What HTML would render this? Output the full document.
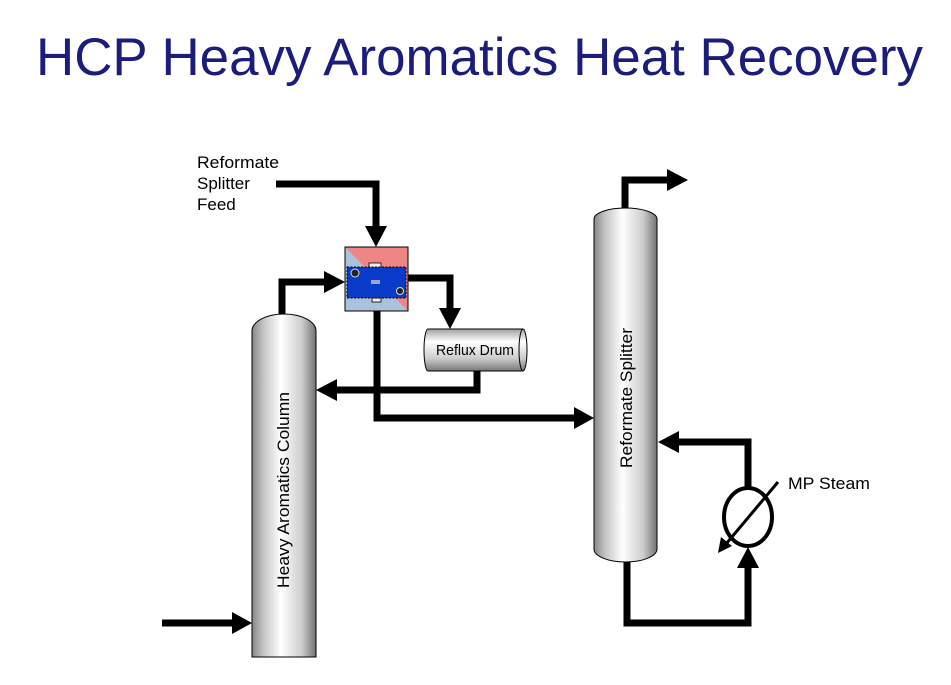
<!DOCTYPE html>
<html>
<head>
<meta charset="utf-8">
<style>
html,body{margin:0;padding:0;background:#fff;}
svg{display:block;}
</style>
</head>
<body>
<svg width="951" height="685" viewBox="0 0 951 685" xmlns="http://www.w3.org/2000/svg">
<defs>
<linearGradient id="col" x1="0" y1="0" x2="1" y2="0">
<stop offset="0" stop-color="#888888"/>
<stop offset="0.18" stop-color="#c4c4c4"/>
<stop offset="0.45" stop-color="#ffffff"/>
<stop offset="0.78" stop-color="#cccccc"/>
<stop offset="1" stop-color="#727272"/>
</linearGradient>
<linearGradient id="drum" x1="0" y1="0" x2="0" y2="1">
<stop offset="0" stop-color="#a0a0a0"/>
<stop offset="0.3" stop-color="#ffffff"/>
<stop offset="0.7" stop-color="#cccccc"/>
<stop offset="1" stop-color="#777777"/>
</linearGradient>
</defs>

<!-- Title -->
<text x="36" y="75" font-family="Liberation Sans, Arial, sans-serif" font-size="53" fill="#1c1c7c" textLength="887" lengthAdjust="spacingAndGlyphs">HCP Heavy Aromatics Heat Recovery</text>

<!-- Labels -->
<g font-family="Liberation Sans, Arial, sans-serif" font-size="17" fill="#000">
<text x="197" y="168" textLength="82" lengthAdjust="spacingAndGlyphs">Reformate</text>
<text x="197" y="189">Splitter</text>
<text x="197" y="210">Feed</text>
<text x="788" y="489" textLength="82" lengthAdjust="spacingAndGlyphs">MP Steam</text>
</g>

<!-- Pipes -->
<g fill="none" stroke="#000" stroke-width="7" stroke-linejoin="miter">
<path d="M276 184 H376 V228"/>
<path d="M282 318 V282 H326"/>
<path d="M408 278 H450 V310"/>
<path d="M377 311 V418 H576"/>
<path d="M477 370 V390 H336"/>
<path d="M162 623 H234"/>
<path d="M625 210 V180 H669"/>
<path d="M627 560 V623 H748 V568"/>
<path d="M748 488 V442 H678"/>
</g>
<!-- Arrowheads -->
<g fill="#000">
<polygon points="365,226 387,226 376,247"/>
<polygon points="324,271 324,293 345,282"/>
<polygon points="439,308 461,308 450,329"/>
<polygon points="574,407 574,429 594,418"/>
<polygon points="337,379 337,401 316,390"/>
<polygon points="232,612 232,634 252,623"/>
<polygon points="667,169 667,191 688,180"/>
<polygon points="737,568 759,568 748,547"/>
<polygon points="679,431 679,453 658,442"/>
</g>

<!-- Heavy Aromatics Column -->
<path d="M252 331 A32 17 0 0 1 316 331 V657 H252 Z" fill="url(#col)" stroke="#000" stroke-width="1"/>
<text transform="translate(289,490) rotate(-90)" text-anchor="middle" font-family="Liberation Sans, Arial, sans-serif" font-size="17" fill="#000" textLength="196" lengthAdjust="spacingAndGlyphs">Heavy Aromatics Column</text>

<!-- Reformate Splitter -->
<path d="M594 219 A31.5 11 0 0 1 657 219 V549 A31.5 13 0 0 1 594 549 Z" fill="url(#col)" stroke="#000" stroke-width="1"/>
<text transform="translate(632,398) rotate(-90)" text-anchor="middle" font-family="Liberation Sans, Arial, sans-serif" font-size="17" fill="#000" textLength="140" lengthAdjust="spacingAndGlyphs">Reformate Splitter</text>

<!-- Reflux Drum -->
<path d="M428 329 H523 A4 21 0 0 1 523 371 H428 A4 21 0 0 1 428 329 Z" fill="url(#drum)" stroke="#000" stroke-width="1"/>
<path d="M523 329 A4 21 0 0 0 523 371" fill="none" stroke="#000" stroke-width="1"/>
<text x="475" y="355" text-anchor="middle" font-family="Liberation Sans, Arial, sans-serif" font-size="15" fill="#000" textLength="78" lengthAdjust="spacingAndGlyphs">Reflux Drum</text>

<!-- Heat exchanger -->
<rect x="345" y="247" width="63" height="64" fill="#a9c3df"/>
<polygon points="345,247 408,247 408,311" fill="#ef8585"/>
<rect x="345" y="247" width="63" height="64" fill="none" stroke="#000" stroke-width="1"/>
<rect x="369" y="263" width="12" height="5" fill="#eee" stroke="#000" stroke-width="0.8"/>
<rect x="372" y="298" width="9" height="4" fill="#eee" stroke="#000" stroke-width="0.8"/>
<rect x="347" y="267" width="59" height="31" fill="#0a3bc8" stroke="#000" stroke-width="1" stroke-dasharray="2,1.5"/>
<rect x="371" y="280" width="9" height="4" fill="#9aa6c8"/>
<circle cx="355" cy="273" r="4" fill="#222" stroke="#ddd" stroke-width="1"/>
<circle cx="400" cy="291" r="3.5" fill="#222" stroke="#ddd" stroke-width="1"/>

<!-- Reboiler -->
<ellipse cx="748" cy="517" rx="24" ry="29" fill="#fff" stroke="#000" stroke-width="4"/>
<line x1="778" y1="482" x2="726" y2="544" stroke="#000" stroke-width="3"/>
<polygon points="718,553 721,537 732,546" fill="#000"/>
</svg>
</body>
</html>
